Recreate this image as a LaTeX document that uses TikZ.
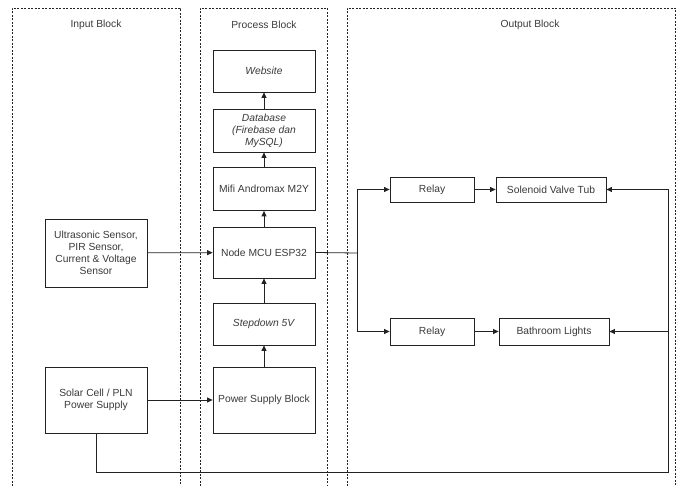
\documentclass[tikz,border=0pt]{standalone}
\usepackage{fontspec}
\setmainfont{Liberation Sans}
\usetikzlibrary{arrows.meta}
\definecolor{txt}{HTML}{3A3A3A}
\definecolor{ln}{HTML}{222222}
\begin{document}
\begin{tikzpicture}[x=1pt,y=-1pt,
  blk/.style={draw=ln,line width=0.8pt,fill=white,align=center,text=txt,font=\fontsize{10.3}{12}\selectfont,inner sep=0pt},
  grp/.style={draw=ln,line width=0.6pt,dash pattern=on 2pt off 1.5pt},
  ttl/.style={text=txt,font=\fontsize{10.3}{12}\selectfont},
  conn/.style={draw=ln,line width=0.8pt,-{Triangle[length=5.5pt,width=5pt]}},
  wire/.style={draw=ln,line width=0.8pt}]
\useasboundingbox (0,0) rectangle (680,486);
% groups
\draw[grp] (12,486) -- (12,8) -- (180,8) -- (180,486);
\draw[grp] (200,486) -- (200,8) -- (327,8) -- (327,486);
\draw[grp] (347,486) -- (347,8) -- (675,8) -- (675,486);
\node[ttl] (tin) at (96,25) {Input Block};
\node[ttl] (tpr) at (264,25) {Process Block};
\node[ttl] (tout) at (530,25) {Output Block};
% process boxes
\node[blk,minimum width=102pt,minimum height=42pt] (web) at (264,71) {\textit{Website}};
\node[blk,minimum width=102pt,minimum height=43pt] (db) at (264,130.5) {\textit{Database}\\\textit{(Firebase dan}\\\textit{MySQL)}};
\node[blk,minimum width=102pt,minimum height=43pt] (mifi) at (264,189) {Mifi Andromax M2Y};
\node[blk,minimum width=102pt,minimum height=51pt] (mcu) at (264,252.5) {Node MCU ESP32};
\node[blk,minimum width=102pt,minimum height=42pt] (step) at (264,324) {\textit{Stepdown 5V}};
\node[blk,minimum width=102pt,minimum height=66pt] (psb) at (264,400) {Power Supply Block};
% input boxes
\node[blk,minimum width=102pt,minimum height=68pt] (sens) at (96,253) {Ultrasonic Sensor,\\PIR Sensor,\\Current \& Voltage\\Sensor};
\node[blk,minimum width=102pt,minimum height=66pt] (solar) at (96,400) {Solar Cell / PLN\\Power Supply};
% output boxes
\node[blk,minimum width=84pt,minimum height=25pt] (r1) at (432,189.5) {Relay};
\node[blk,minimum width=110pt,minimum height=25pt] (sol) at (551,189.5) {Solenoid Valve Tub};
\node[blk,minimum width=84pt,minimum height=27pt] (r2) at (432,331.5) {Relay};
\node[blk,minimum width=110pt,minimum height=27pt] (bath) at (554,331.5) {Bathroom Lights};
% coordinates
\coordinate (sp) at (357,253);
\coordinate (rt) at (668,189.5);
\coordinate (rb) at (668,472);
\coordinate (lb) at (96,472);
% connectors
\draw[conn] (psb) -- (step);
\draw[conn] (step) -- (mcu);
\draw[conn] (mcu) -- (mifi);
\draw[conn] (mifi) -- (db);
\draw[conn] (db) -- (web);
\draw[conn] (sens) -- (mcu);
\draw[conn] (solar) -- (psb);
\draw[wire] (mcu.east) -- (sp);
\draw[conn] (sp) |- (r1.west);
\draw[conn] (sp) |- (r2.west);
\draw[conn] (r1) -- (sol);
\draw[conn] (r2) -- (bath);
\draw[wire] (solar.south) -- (lb) -- (rb) -- (rt);
\draw[conn] (rt) -- (sol.east);
\draw[conn] (rb) |- (bath.east);
\end{tikzpicture}
\end{document}
